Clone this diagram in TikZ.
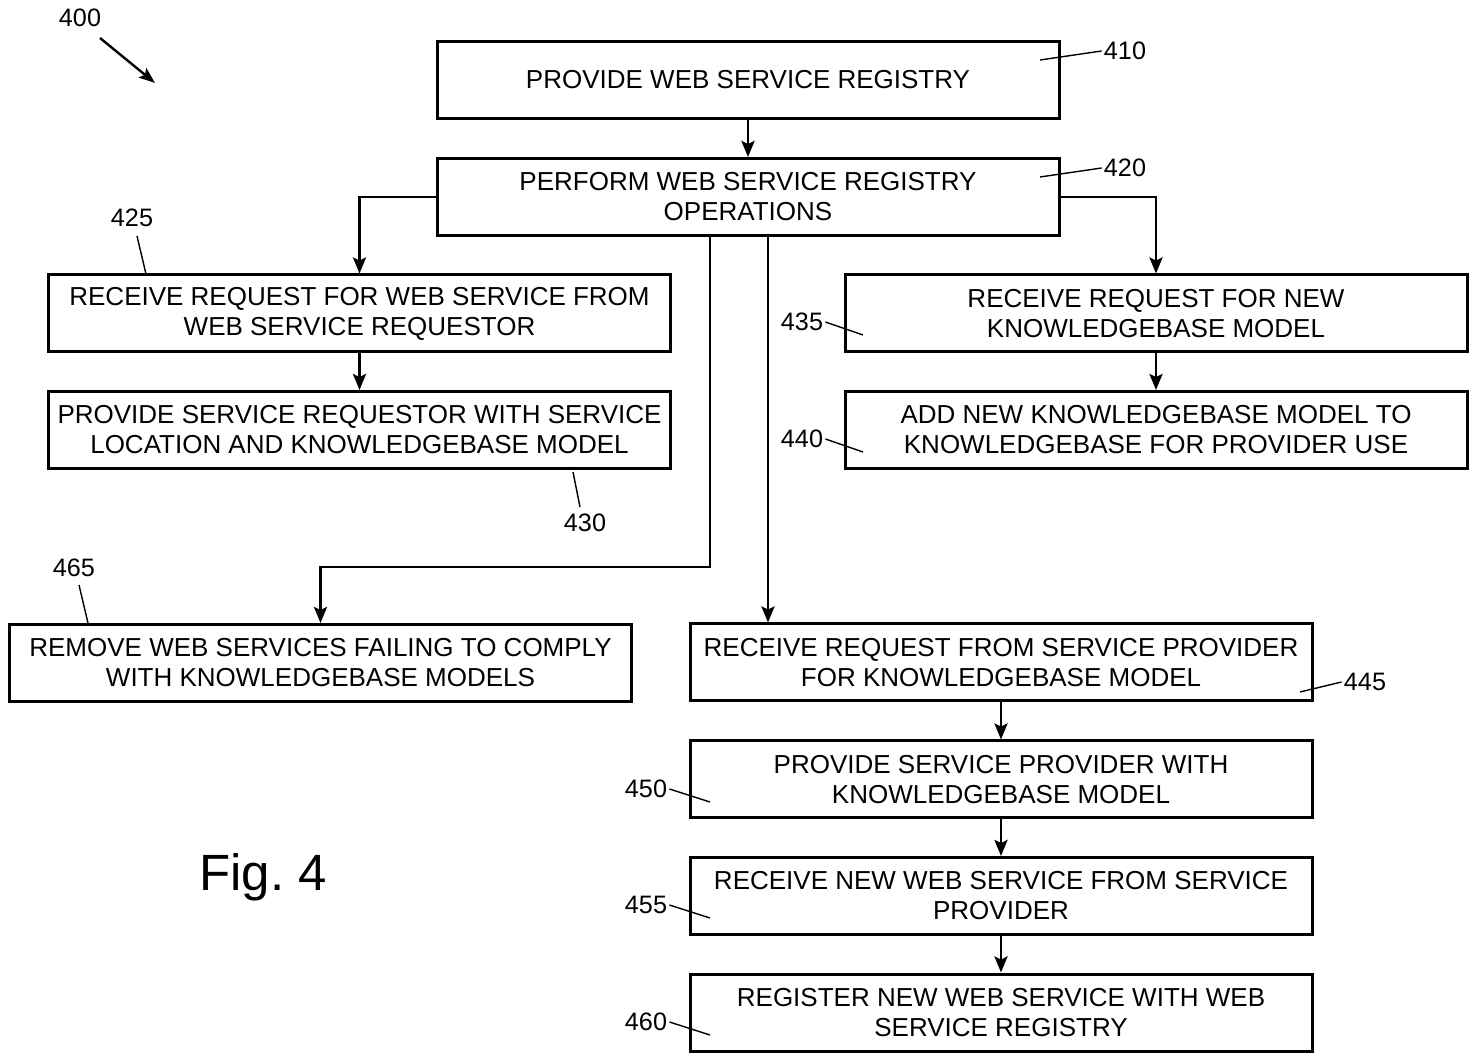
\documentclass[tikz,border=0pt]{standalone}
\usepackage{fontspec}
\setmainfont{Liberation Sans}
\usetikzlibrary{arrows.meta,calc}
\frenchspacing

\tikzset{
  stepbox/.style={draw, line width=1.5pt, minimum width=311pt, minimum height=38.5pt,
    inner sep=0pt, align=center, font=\fontsize{13}{15}\selectfont},
  arr/.style={line width=1.4pt, -{Stealth[length=8pt,width=6.5pt,inset=1.5pt]}},
  refnum/.style={font=\fontsize{12.6}{15}\selectfont, inner sep=1pt},
  leader/.style={line width=0.7pt}
}

\begin{document}
\begin{tikzpicture}[x=0.5pt,y=-0.5pt]
\useasboundingbox (0,0) rectangle (1469,1053);

% process boxes
\node[stepbox] (b410) at (748,80)    {PROVIDE WEB SERVICE REGISTRY};
\node[stepbox] (b420) at (748,197)   {PERFORM WEB SERVICE REGISTRY\\OPERATIONS};
\node[stepbox] (b425) at (359.5,313.5) {RECEIVE REQUEST FOR WEB SERVICE FROM\\WEB SERVICE REQUESTOR};
\node[stepbox] (b430) at (359.5,430) {PROVIDE SERVICE REQUESTOR WITH SERVICE\\LOCATION AND KNOWLEDGEBASE MODEL};
\node[stepbox] (b435) at (1156,313.5) {RECEIVE REQUEST FOR NEW\\KNOWLEDGEBASE MODEL};
\node[stepbox] (b440) at (1156,430)  {ADD NEW KNOWLEDGEBASE MODEL TO\\KNOWLEDGEBASE FOR PROVIDER USE};
\node[stepbox] (b465) at (320.5,663) {REMOVE WEB SERVICES FAILING TO COMPLY\\WITH KNOWLEDGEBASE MODELS};
\node[stepbox] (b445) at (1001,662.5) {RECEIVE REQUEST FROM SERVICE PROVIDER\\FOR KNOWLEDGEBASE MODEL};
\node[stepbox] (b450) at (1001,779.5) {PROVIDE SERVICE PROVIDER WITH\\KNOWLEDGEBASE MODEL};
\node[stepbox] (b455) at (1001,896)  {RECEIVE NEW WEB SERVICE FROM SERVICE\\PROVIDER};
\node[stepbox] (b460) at (1001,1012.5) {REGISTER NEW WEB SERVICE WITH WEB\\SERVICE REGISTRY};

% flow connectors
\draw[arr] (b410) -- (b420);
\draw[arr] (b420.west) -| (b425.north);
\draw[arr] (b420.east) -| (b435.north);
\draw[arr] (b425) -- (b430);
\draw[arr] (b435) -- (b440);
\coordinate (s1) at ([xshift=-19pt]b420.south);
\coordinate (s2) at ([xshift=10pt]b420.south);
\draw[arr] (s1) -- ++(0,330) -| (b465.north);
\draw[arr] (s2) -- (s2 |- b445.north);
\draw[arr] (b445) -- (b450);
\draw[arr] (b450) -- (b455);
\draw[arr] (b455) -- (b460);

% reference numerals
\node[refnum] (n400) at (80,18) {400};
\coordinate (t400) at (155,83);
\draw[line width=1.2pt, -{Stealth[length=8pt,width=6pt,inset=1.5pt]}] (100,38) -- (t400);

\node[refnum] (n410) at (1125,51) {410};
\coordinate (t410) at (1040,60);
\draw[leader] (n410.west) -- (t410);

\node[refnum] (n420) at (1125,168) {420};
\coordinate (t420) at (1040,177);
\draw[leader] (n420.west) -- (t420);

\node[refnum] (n425) at (132,218) {425};
\coordinate (t425) at (146,274);
\draw[leader] (137,236) -- (t425);

\node[refnum] (n430) at (585,523) {430};
\coordinate (t430) at (573,472);
\draw[leader] (580,507) -- (t430);

\node[refnum] (n435) at (802,322) {435};
\coordinate (t435) at (863,335);
\draw[leader] (n435.east) -- (t435);

\node[refnum] (n440) at (802,439) {440};
\coordinate (t440) at (863,452);
\draw[leader] (n440.east) -- (t440);

\node[refnum] (n465) at (74,568) {465};
\coordinate (t465) at (88,623);
\draw[leader] (79,585) -- (t465);

\node[refnum] (n445) at (1365,682) {445};
\coordinate (t445) at (1300,692);
\draw[leader] (n445.west) -- (t445);

\node[refnum] (n450) at (646,789) {450};
\coordinate (t450) at (710,802);
\draw[leader] (n450.east) -- (t450);

\node[refnum] (n455) at (646,905) {455};
\coordinate (t455) at (710,918);
\draw[leader] (n455.east) -- (t455);

\node[refnum] (n460) at (646,1022) {460};
\coordinate (t460) at (710,1035);
\draw[leader] (n460.east) -- (t460);

% figure caption
\node[font=\fontsize{25.5}{30}\selectfont, inner sep=0pt] (fig) at (263,877) {Fig. 4};
\end{tikzpicture}
\end{document}
